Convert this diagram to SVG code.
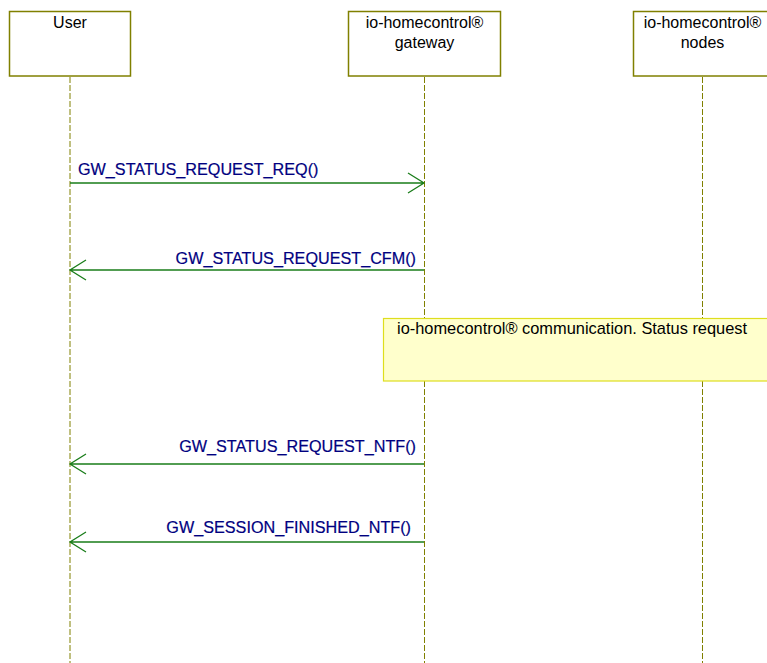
<svg xmlns="http://www.w3.org/2000/svg" width="767" height="663" viewBox="0 0 767 663">
<style>
.box{fill:#ffffff;stroke:#808000;stroke-width:1.5}
.life{stroke:#808000;stroke-width:1;stroke-dasharray:6 2;fill:none}
.lbl{font-family:"Liberation Sans",Arial,sans-serif;font-size:16px;fill:#000000;text-anchor:middle}
.msg{stroke:#1a7d1a;stroke-width:1.3;fill:none}
.mt{font-family:"Liberation Sans",Arial,sans-serif;font-size:16.2px;fill:#000080;stroke:#000080;stroke-width:0.2}
.note{fill:#ffffcc;stroke:#dede1e;stroke-width:1.2}
.nt{font-family:"Liberation Sans",Arial,sans-serif;font-size:16.4px;fill:#000000}
</style>
<rect width="767" height="663" fill="#ffffff"/>
<g id="lifelines">
<line class="life" x1="70" y1="77" x2="70" y2="663"/>
<line class="life" x1="424.5" y1="77" x2="424.5" y2="663"/>
<line class="life" x1="702.5" y1="77" x2="702.5" y2="663"/>
</g>
<g id="user">
<rect class="box" x="9.5" y="11.5" width="121" height="64.5"/>
<text class="lbl" x="70" y="28">User</text>
</g>
<g id="gateway">
<rect class="box" x="348.5" y="11.5" width="152" height="64.5"/>
<text class="lbl" x="424.5" y="28">io-homecontrol®</text>
<text class="lbl" x="424.5" y="48">gateway</text>
</g>
<g id="nodes">
<rect class="box" x="633.5" y="11.5" width="140" height="64.5"/>
<text class="lbl" x="702.5" y="28">io-homecontrol®</text>
<text class="lbl" x="702.5" y="48">nodes</text>
</g>
<g id="note">
<rect class="note" x="383.5" y="318.5" width="390" height="62.5"/>
<text class="nt" x="397" y="334">io-homecontrol® communication. Status request</text>
</g>
<g id="connectors">
<path class="msg" d="M70,183 H424 M408,173 L424,183 L408,193"/>
<text class="mt" x="78" y="175">GW_STATUS_REQUEST_REQ()</text>
<path class="msg" d="M424,270 H70 M86,260 L70,270 L86,280"/>
<text class="mt" x="416" y="264" text-anchor="end">GW_STATUS_REQUEST_CFM()</text>
<path class="msg" d="M424,464 H70 M86,454 L70,464 L86,474"/>
<text class="mt" x="416" y="452" text-anchor="end">GW_STATUS_REQUEST_NTF()</text>
<path class="msg" d="M424,542 H70 M86,532 L70,542 L86,552"/>
<text class="mt" x="411" y="533" text-anchor="end">GW_SESSION_FINISHED_NTF()</text>
</g>
</svg>
